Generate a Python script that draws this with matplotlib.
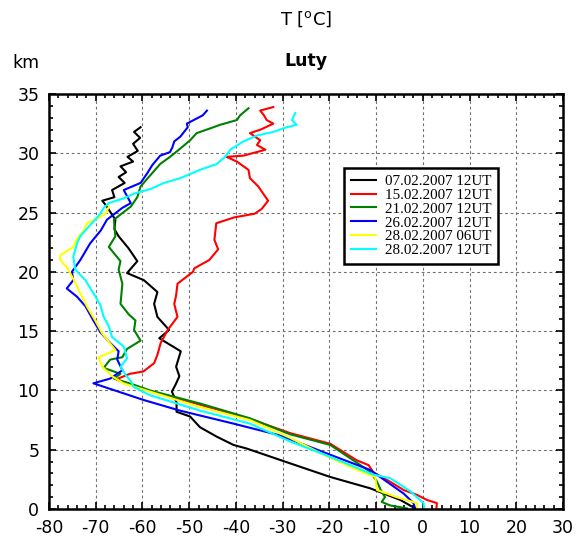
import matplotlib
matplotlib.use("Agg")
import matplotlib.pyplot as plt
from matplotlib.ticker import MultipleLocator

plt.rcParams['font.family'] = ['DejaVu Sans']
plt.rcParams['axes.unicode_minus'] = False

### soundings: heights in km, temperatures in deg C (top -> surface)
labels = ["07.02.2007 12UT", "15.02.2007 12UT", "21.02.2007 12UT",
          "26.02.2007 12UT", "28.02.2007 06UT", "28.02.2007 12UT"]
colors = ["black", "red", "green", "blue", "yellow", "cyan"]

h_0702 = [32.2, 31.8, 31.3, 30.8, 30.2, 29.7, 29.3, 28.9, 28.4, 28.0, 27.5, 26.9, 26.3, 26.0,
          25.5, 25.0, 24.4, 23.6, 23.0, 22.0, 20.9, 19.9, 19.3, 18.3, 17.3, 16.2, 15.1, 14.4,
          13.3, 12.0, 11.2, 10.5, 9.9, 9.0, 8.2, 7.8, 6.9, 6.1, 5.4, 5.1, 3.85, 2.7, 1.75,
          0.76, 0.0]
t_0702 = [-60.4, -61.8, -60.5, -62.0, -61.0, -63.2, -62.0, -64.7, -63.5, -65.1, -63.8, -66.5,
          -66.0, -68.6, -67.6, -66.8, -65.8, -66.0, -65.1, -63.0, -61.1, -63.3, -59.7, -56.8,
          -57.5, -56.8, -54.3, -56.4, -51.8, -52.8, -52.1, -52.9, -53.7, -52.7, -52.7, -49.8,
          -47.7, -44.1, -40.5, -37.7, -28.4, -19.8, -11.3, -4.8, -1.4]

h_1502 = [33.9, 33.6, 33.2, 32.8, 32.5, 32.0, 31.7, 31.1, 30.7, 30.3, 29.8, 29.7, 29.3, 28.6,
          27.9, 27.2, 26.5, 26.0, 25.3, 24.9, 24.6, 24.1, 22.7, 21.9, 21.0, 20.3, 20.0, 19.0,
          18.0, 17.3, 16.2, 15.1, 14.0, 13.0, 12.3, 11.6, 11.4, 11.0, 10.9, 9.95, 8.8, 7.6,
          6.4, 5.5, 4.1, 3.7, 3.1, 2.3, 1.6, 1.2, 0.76, 0.5, 0.0]
t_1502 = [-32.0, -34.8, -34.0, -33.4, -32.0, -34.7, -37.0, -34.8, -35.5, -33.7, -38.4, -42.0,
          -39.8, -37.3, -37.0, -35.2, -34.0, -33.1, -34.5, -36.0, -40.3, -44.2, -44.6, -43.8,
          -45.7, -48.9, -49.2, -52.5, -52.8, -53.2, -52.5, -54.6, -56.1, -56.8, -57.5, -59.8,
          -62.7, -65.2, -65.5, -58.4, -47.7, -37.0, -28.4, -19.8, -14.1, -11.6, -10.6, -7.0,
          -4.1, -1.3, 0.9, 3.0, 2.9]

h_2102 = [33.8, 33.2, 32.8, 32.4, 32.1, 31.7, 31.1, 30.4, 29.7, 29.1, 28.2, 27.2, 26.3, 25.5,
          24.9, 24.4, 23.0, 22.1, 20.9, 20.2, 19.0, 17.3, 16.4, 15.9, 15.1, 14.2, 13.5, 12.8,
          12.6, 11.9, 11.4, 11.0, 10.5, 10.0, 8.9, 7.65, 6.3, 5.4, 3.9, 3.2, 2.7, 2.3, 1.6, 1.0,
          0.6, 0.3, 0.05]
t_2102 = [-37.3, -39.1, -39.8, -43.4, -45.5, -48.4, -49.8, -51.9, -54.1, -56.2, -58.2, -60.4,
          -61.1, -62.5, -64.5, -66.1, -65.8, -67.2, -64.7, -65.1, -64.3, -64.7, -62.9, -61.5,
          -61.8, -60.4, -63.3, -64.3, -66.9, -68.3, -64.7, -66.1, -62.0, -58.4, -47.7, -37.0,
          -28.4, -19.8, -14.1, -11.5, -10.5, -9.8, -9.0, -8.1, -8.8, -7.0, -3.4]

h_2602 = [33.6, 33.2, 32.5, 32.2, 31.4, 31.0, 30.5, 30.1, 29.8, 29.0, 28.3, 27.5, 26.9, 25.8,
          25.4, 24.4, 23.5, 22.4, 21.0, 20.0, 19.3, 18.6, 17.9, 17.1, 15.9, 14.9, 14.0, 13.3,
          12.6, 11.7, 11.0, 10.6, 9.2, 8.3, 7.2, 6.2, 4.8, 3.3, 1.3, 0.5, 0.0]
t_2602 = [-46.2, -47.1, -50.5, -50.3, -51.9, -53.2, -53.6, -54.1, -56.2, -57.9, -59.0, -60.4,
          -64.0, -62.5, -64.3, -67.6, -68.9, -71.2, -73.3, -75.1, -74.8, -76.2, -74.0, -72.2,
          -70.5, -69.0, -66.9, -65.1, -65.4, -64.3, -66.9, -70.5, -59.8, -52.0, -40.5, -30.5,
          -21.3, -11.3, -4.1, -2.0, -1.6]

h_2802_06 = [25.5, 24.9, 24.5, 24.1, 23.5, 22.8, 22.1, 21.4, 21.0, 20.4, 19.4, 18.2, 17.1, 15.9,
             14.8, 13.4, 12.8, 12.0, 11.2, 10.6, 9.9, 8.6, 7.5, 6.0, 4.6, 3.3, 2.7, 1.6, 1.0,
             0.5, 0.0]
t_2802_06 = [-67.2, -67.9, -69.7, -71.9, -72.5, -74.0, -74.8, -77.6, -77.6, -76.2, -74.8, -73.3,
             -71.9, -70.1, -68.6, -65.8, -69.4, -68.6, -66.5, -64.1, -58.4, -47.7, -37.0, -28.4,
             -21.3, -14.1, -10.2, -9.8, -5.6, -1.3, -1.2]

h_2802_12 = [33.4, 32.8, 32.4, 32.2, 31.8, 31.5, 31.0, 30.3, 29.7, 29.1, 28.6, 27.9, 27.5, 27.0,
             26.6, 26.2, 25.8, 25.4, 24.9, 23.5, 23.0, 22.4, 21.3, 20.2, 19.3, 18.2, 17.2, 16.2,
             15.4, 14.5, 13.7, 12.7, 12.0, 11.3, 10.8, 10.3, 9.6, 8.3, 7.2, 5.7, 4.4, 2.9, 2.6,
             1.5, 0.5, 0.0]
t_2802_12 = [-27.3, -28.0, -27.0, -29.1, -32.0, -35.5, -38.4, -41.2, -42.3, -44.1, -47.7, -51.9,
             -55.4, -58.2, -61.8, -64.0, -67.2, -68.3, -69.0, -72.2, -73.3, -74.0, -74.8, -74.4,
             -72.2, -70.5, -69.0, -68.3, -67.2, -66.5, -64.0, -63.3, -64.7, -63.6, -62.5, -61.9,
             -58.4, -47.7, -37.0, -28.4, -19.8, -10.6, -7.0, -2.7, 0.15, 0.3]

temps = [t_0702, t_1502, t_2102, t_2602, t_2802_06, t_2802_12]
heights = [h_0702, h_1502, h_2102, h_2602, h_2802_06, h_2802_12]

fig = plt.figure(figsize=(5.87, 5.45), dpi=100)
ax = fig.add_axes([49 / 587, 36 / 545, 514 / 587, 415 / 545])

for t, h, c, lab in zip(temps, heights, colors, labels):
    ax.plot(t, h, color=c, lw=1.5, label=lab)

ax.set_xlim(-80, 30)
ax.set_ylim(0, 35)
ax.xaxis.set_major_locator(MultipleLocator(10))
ax.xaxis.set_minor_locator(MultipleLocator(2))
ax.yaxis.set_major_locator(MultipleLocator(5))
ax.yaxis.set_minor_locator(MultipleLocator(1))
ax.tick_params(which='both', direction='in', top=True, right=True, width=1.2)
ax.tick_params(which='major', length=5, labelsize=12.5, pad=7)
ax.tick_params(which='minor', length=3)
for sp in ax.spines.values():
    sp.set_linewidth(1.8)
ax.grid(True, which='major', color='#707070', ls=(0, (2.5, 2.5)), lw=0.8)
ax.set_axisbelow(True)

leg = ax.legend(loc='upper left', bbox_to_anchor=(0.574, 0.822), borderaxespad=0,
                fancybox=False, framealpha=1, edgecolor='black', handlelength=1.7,
                labelspacing=0.02, borderpad=0.45, handletextpad=0.55,
                prop={'family': 'Liberation Serif', 'size': 10.8})
leg.get_frame().set_linewidth(1.8)

fig.text(0.522, 1 - 19 / 545, "T [$^{\\mathrm{o}}$C]", ha='center', va='center', fontsize=13)
fig.text(0.522, 1 - 61 / 545, "Luty", ha='center', va='center', fontsize=12.5,
         fontweight='bold')
fig.text(26 / 587, 1 - 63 / 545, "km", ha='center', va='center', fontsize=12.5)

fig.savefig("out.png", dpi=100)
